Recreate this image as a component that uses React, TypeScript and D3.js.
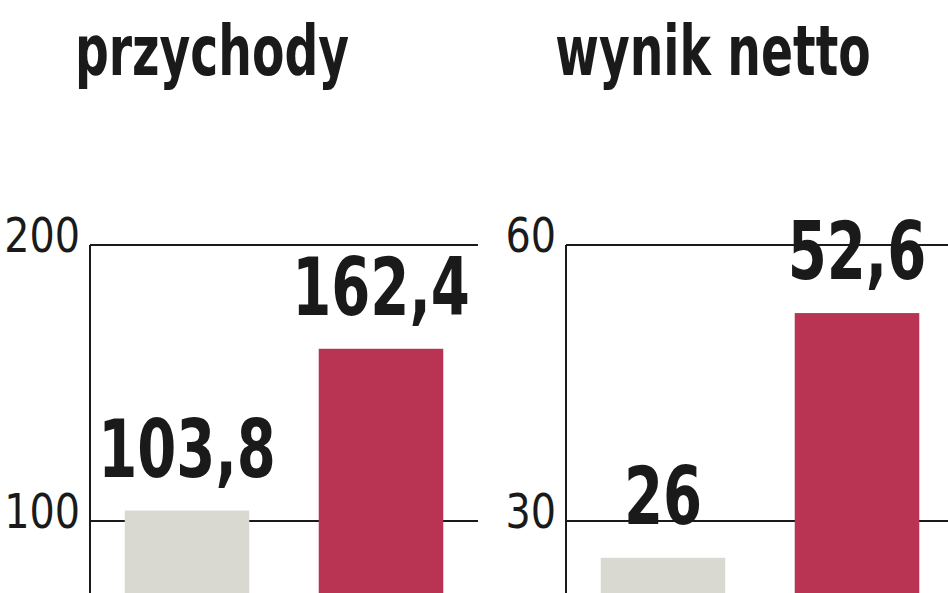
import * as d3 from "d3";
import { useEffect, useRef } from "react";

const periods = ["poprzednio", "obecnie"];
const revenue = [103.8, 162.4];
const netIncome = [26, 52.6];
const revenueTicks = [100, 200];
const netTicks = [30, 60];
const titles = ["przychody", "wynik netto"];

const W = 948;
const H = 593;
const colors = ["#d9d9d1", "#b93352"];
const font = "'DejaVu Sans Condensed', 'Liberation Sans Narrow', sans-serif";

// squeeze text horizontally to mimic the narrow newspaper face
function squeeze(sel: d3.Selection<SVGTextElement, any, any, any>, k: number) {
    sel.each(function () {
        const len = this.getComputedTextLength();
        d3.select(this)
            .attr("textLength", len * k)
            .attr("lengthAdjust", "spacingAndGlyphs");
    });
}

export default function App() {
    const ref = useRef<SVGSVGElement | null>(null);

    useEffect(() => {
        const svg = d3.select(ref.current);
        svg.selectAll("*").remove();

        const panels = [
            { title: titles[0], values: revenue, ticks: revenueTicks, max: 200, left: 90, titleX: 212 },
            { title: titles[1], values: netIncome, ticks: netTicks, max: 60, left: 566, titleX: 713 },
        ];

        panels.forEach((p) => {
            const g = svg.append("g");
            const x = d3
                .scaleBand<string>()
                .domain(periods)
                .range([p.left, p.left + 388])
                .paddingInner(0.358)
                .paddingOuter(0.179);
            const y = d3.scaleLinear().domain([0, p.max]).range([797, 245]);

            const title = g
                .append("text")
                .attr("x", p.titleX)
                .attr("y", 75)
                .attr("text-anchor", "middle")
                .attr("font-family", font)
                .attr("font-weight", "bold")
                .attr("font-size", 70)
                .attr("fill", "#1a1a1a")
                .text(p.title);
            squeeze(title as any, 0.75);

            // gridlines + tick labels
            g.selectAll("line.grid")
                .data(p.ticks)
                .join("line")
                .attr("class", "grid")
                .attr("x1", p.left)
                .attr("x2", p.left + 388)
                .attr("y1", (d) => y(d))
                .attr("y2", (d) => y(d))
                .attr("stroke", "#1a1a1a")
                .attr("stroke-width", 2);

            const ticks = g
                .selectAll("text.tick")
                .data(p.ticks)
                .join("text")
                .attr("class", "tick")
                .attr("x", p.left - 10)
                .attr("y", (d) => y(d) + 7)
                .attr("text-anchor", "end")
                .attr("font-family", font)
                .attr("font-size", 48)
                .attr("fill", "#1a1a1a")
                .text((d) => d);
            squeeze(ticks as any, 0.92);

            g.selectAll("rect")
                .data(p.values)
                .join("rect")
                .attr("x", (_, i) => x(periods[i]) ?? 0)
                .attr("y", (d) => y(d))
                .attr("width", x.bandwidth())
                .attr("height", (d) => y(0) - y(d))
                .attr("fill", (_, i) => colors[i]);

            const vals = g
                .selectAll("text.val")
                .data(p.values)
                .join("text")
                .attr("class", "val")
                .attr("x", (_, i) => (x(periods[i]) ?? 0) + x.bandwidth() / 2)
                .attr("y", (d) => y(d) - 34)
                .attr("text-anchor", "middle")
                .attr("font-family", font)
                .attr("font-weight", "bold")
                .attr("font-size", 80)
                .attr("fill", "#1a1a1a")
                .text((d) => String(d).replace(".", ","));
            squeeze(vals as any, 0.78);

            // vertical axis
            g.append("line")
                .attr("x1", p.left)
                .attr("x2", p.left)
                .attr("y1", y(p.max))
                .attr("y2", H)
                .attr("stroke", "#1a1a1a")
                .attr("stroke-width", 2);
        });
    }, []);

    return (
        <svg
            ref={ref}
            width={W}
            height={H}
            style={{ position: "absolute", left: 0, top: 0, background: "#fff" }}
        />
    );
}
